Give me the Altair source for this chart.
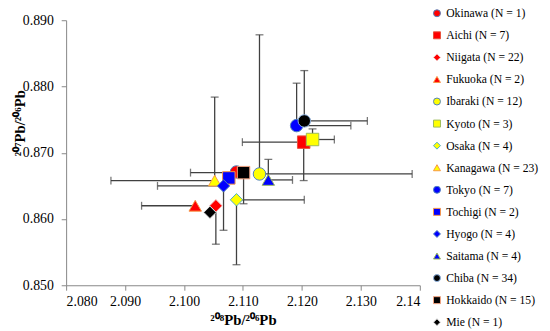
import altair as alt
import pandas as pd

regions = ["Okinawa", "Aichi", "Niigata", "Fukuoka", "Ibaraki", "Kyoto", "Osaka", "Kanagawa",
           "Tokyo", "Tochigi", "Hyogo", "Saitama", "Chiba", "Hokkaido", "Mie"]
n_counts = [1, 7, 22, 2, 12, 3, 4, 23, 7, 2, 4, 4, 34, 15, 1]
x_vals = [2.1089, 2.1203, 2.1054, 2.1019, 2.1128, 2.1218, 2.1089, 2.1052,
          2.1191, 2.1076, 2.1067, 2.1143, 2.1204, 2.1101, 2.1044]
y_vals = [0.8671, 0.8716, 0.8620, 0.8620, 0.8668, 0.8720, 0.8629, 0.8658,
          0.8741, 0.8662, 0.8650, 0.8659, 0.8748, 0.8670, 0.8610]
x_err_end = [None, 2.1099, None, 2.0928, 2.1387, 2.1255, 2.1204, 2.0876,
             2.1283, None, 2.0955, 2.1184, 2.1311, 2.1011, None]
y_err_end = [None, 0.8658, 0.8562, None, 0.8878, 0.8736, 0.8531, 0.8784,
             0.8805, None, 0.8583, 0.8690, 0.8824, 0.8623, None]

shapes = ["circle", "square", "diamond", "triangle-up", "circle", "square", "diamond", "triangle-up",
          "circle", "square", "diamond", "triangle-up", "circle", "square", "diamond"]
fills = ["#FF0000"] * 4 + ["#FFFF00"] * 4 + ["#0000FF"] * 4 + ["#000000"] * 3
strokes = ["#4F81BD", "#E8503A", "#F2C0C0", "#F79646", "#4F81BD", "#9BBB59", "#4BACC6", "#F79646",
           "#4F81BD", "#F79646", "#4F81BD", "#9BBB59", "#8EB4E3", "#F4A582", "#E0E0E0"]

x_ticks = [2.08, 2.09, 2.10, 2.11, 2.12, 2.13, 2.14]
y_ticks = [0.85, 0.86, 0.87, 0.88, 0.89]

labels = [f"{r} (N = {n})" for r, n in zip(regions, n_counts)]

pts = pd.DataFrame({"label": labels, "x": x_vals, "y": y_vals, "order": list(range(len(labels)))})
vbars = pd.DataFrame([{"x": x, "y": y, "ye": ye} for x, y, ye in zip(x_vals, y_vals, y_err_end) if ye is not None])
hbars = pd.DataFrame([{"x": x, "y": y, "xe": xe} for x, y, xe in zip(x_vals, y_vals, x_err_end) if xe is not None])

FONT = "Liberation Serif"
xscale = alt.Scale(domain=[2.08, 2.14], nice=False, zero=False)
yscale = alt.Scale(domain=[0.85, 0.89], nice=False, zero=False)

xaxis = alt.Axis(values=x_ticks, title="²⁰⁸Pb/²⁰⁶Pb", labelFont=FONT, titleFont=FONT,
                 labelExpr="abs(datum.value - 2.14) < 1e-6 ? '2.14' : format(datum.value, '.3f')",
                 titleX=179.5, titleY=35, titleAlign="center", titleBaseline="middle")
yaxis = alt.Axis(values=y_ticks, format=".3f", title="²⁰⁷Pb/²⁰⁶Pb", labelFont=FONT, titleFont=FONT,
                 titleX=-47, titleY=104, titleAngle=270, titleAlign="center", titleBaseline="middle")

X = alt.X("x:Q", scale=xscale, axis=xaxis)
Y = alt.Y("y:Q", scale=yscale, axis=yaxis)

err_color = "#404040"
vrule = alt.Chart(vbars).mark_rule(color=err_color, strokeWidth=1.3).encode(
    x=X, y=Y, y2="ye:Q")
vcap = alt.Chart(vbars).mark_tick(color=err_color, thickness=1.3, size=8, orient="horizontal").encode(
    x=X, y=alt.Y("ye:Q", scale=yscale, axis=yaxis))
hrule = alt.Chart(hbars).mark_rule(color=err_color, strokeWidth=1.3).encode(
    x=X, x2="xe:Q", y=Y)
hcap = alt.Chart(hbars).mark_tick(color=err_color, thickness=1.3, size=8, orient="vertical").encode(
    x=alt.X("xe:Q", scale=xscale, axis=xaxis), y=Y)

legend = alt.Legend(title=None, orient="none", legendX=370.5, legendY=-13, padding=0,
                    symbolSize=50, symbolStrokeWidth=1, labelFont=FONT, labelFontSize=11.8,
                    labelColor="#000000", rowPadding=9.4, labelOffset=3.5, labelLimit=200)

points = alt.Chart(pts).mark_point(filled=True, size=160, opacity=1, strokeWidth=1).encode(
    x=X, y=Y,
    shape=alt.Shape("label:N", scale=alt.Scale(domain=labels, range=shapes), legend=legend),
    fill=alt.Fill("label:N", scale=alt.Scale(domain=labels, range=fills), legend=legend),
    stroke=alt.Stroke("label:N", scale=alt.Scale(domain=labels, range=strokes), legend=legend),
    order="order:Q",
)

chart = alt.layer(vrule, hrule, vcap, hcap, points).properties(
    width=359, height=269,
    autosize=alt.AutoSizeParams(type="none"),
    padding={"left": 59, "top": 10, "right": 124, "bottom": 44},
).configure_view(stroke=None).configure_axis(
    grid=False, domainColor="#868686", tickColor="#868686", tickSize=5,
    labelFont=FONT, labelFontSize=14, labelColor="#000000", labelPadding=5,
    titleFont=FONT, titleFontSize=15, titleFontWeight="bold", titleColor="#000000",
).configure_axisY(labelPadding=8).configure_legend(
    labelFont=FONT, labelFontSize=11.8, labelColor="#000000"
)

chart.save("out.html", embed_options={"renderer": "svg", "actions": False})
